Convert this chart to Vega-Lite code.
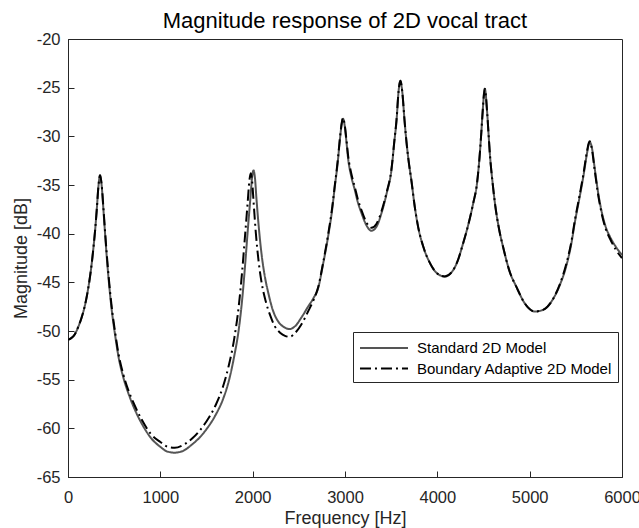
{
  "$schema": "https://vega.github.io/schema/vega-lite/v6.json",
  "width": 554,
  "height": 438,
  "autosize": {"type": "none"},
  "padding": {"left": 68, "top": 39, "right": 17, "bottom": 51},
  "config": {
    "font": "Liberation Sans",
    "view": {"stroke": "#262626", "strokeWidth": 1},
    "background": "white"
  },
  "title": {
    "text": "Magnitude response of 2D vocal tract",
    "fontSize": 22,
    "fontWeight": "normal",
    "color": "#000000",
    "anchor": "middle",
    "offset": -2
  },
  "data": {
    "values": [
      {"f": 0, "db": -50.9, "model": "Standard 2D Model"},
      {"f": 40, "db": -50.7, "model": "Standard 2D Model"},
      {"f": 76, "db": -50.3, "model": "Standard 2D Model"},
      {"f": 110, "db": -49.6, "model": "Standard 2D Model"},
      {"f": 148, "db": -48.6, "model": "Standard 2D Model"},
      {"f": 185, "db": -47.3, "model": "Standard 2D Model"},
      {"f": 221, "db": -45.5, "model": "Standard 2D Model"},
      {"f": 250, "db": -43.6, "model": "Standard 2D Model"},
      {"f": 275, "db": -41.5, "model": "Standard 2D Model"},
      {"f": 295, "db": -39.5, "model": "Standard 2D Model"},
      {"f": 311, "db": -37.6, "model": "Standard 2D Model"},
      {"f": 330, "db": -35.1, "model": "Standard 2D Model"},
      {"f": 347, "db": -34.0, "model": "Standard 2D Model"},
      {"f": 365, "db": -35.1, "model": "Standard 2D Model"},
      {"f": 384, "db": -37.6, "model": "Standard 2D Model"},
      {"f": 400, "db": -39.8, "model": "Standard 2D Model"},
      {"f": 419, "db": -42.3, "model": "Standard 2D Model"},
      {"f": 445, "db": -45.2, "model": "Standard 2D Model"},
      {"f": 473, "db": -47.8, "model": "Standard 2D Model"},
      {"f": 510, "db": -50.4, "model": "Standard 2D Model"},
      {"f": 546, "db": -52.6, "model": "Standard 2D Model"},
      {"f": 600, "db": -54.8, "model": "Standard 2D Model"},
      {"f": 654, "db": -56.4, "model": "Standard 2D Model"},
      {"f": 720, "db": -58.0, "model": "Standard 2D Model"},
      {"f": 798, "db": -59.5, "model": "Standard 2D Model"},
      {"f": 899, "db": -61.0, "model": "Standard 2D Model"},
      {"f": 1000, "db": -61.9, "model": "Standard 2D Model"},
      {"f": 1080, "db": -62.4, "model": "Standard 2D Model"},
      {"f": 1156, "db": -62.5, "model": "Standard 2D Model"},
      {"f": 1250, "db": -62.3, "model": "Standard 2D Model"},
      {"f": 1350, "db": -61.6, "model": "Standard 2D Model"},
      {"f": 1420, "db": -61.0, "model": "Standard 2D Model"},
      {"f": 1499, "db": -60.1, "model": "Standard 2D Model"},
      {"f": 1600, "db": -58.6, "model": "Standard 2D Model"},
      {"f": 1679, "db": -57.0, "model": "Standard 2D Model"},
      {"f": 1740, "db": -55.2, "model": "Standard 2D Model"},
      {"f": 1800, "db": -52.6, "model": "Standard 2D Model"},
      {"f": 1850, "db": -49.8, "model": "Standard 2D Model"},
      {"f": 1890, "db": -46.4, "model": "Standard 2D Model"},
      {"f": 1920, "db": -43.0, "model": "Standard 2D Model"},
      {"f": 1945, "db": -39.9, "model": "Standard 2D Model"},
      {"f": 1975, "db": -36.4, "model": "Standard 2D Model"},
      {"f": 1995, "db": -34.1, "model": "Standard 2D Model"},
      {"f": 2009, "db": -33.5, "model": "Standard 2D Model"},
      {"f": 2025, "db": -34.3, "model": "Standard 2D Model"},
      {"f": 2041, "db": -36.4, "model": "Standard 2D Model"},
      {"f": 2065, "db": -39.2, "model": "Standard 2D Model"},
      {"f": 2095, "db": -42.0, "model": "Standard 2D Model"},
      {"f": 2130, "db": -44.3, "model": "Standard 2D Model"},
      {"f": 2167, "db": -46.0, "model": "Standard 2D Model"},
      {"f": 2220, "db": -47.9, "model": "Standard 2D Model"},
      {"f": 2275, "db": -49.0, "model": "Standard 2D Model"},
      {"f": 2340, "db": -49.6, "model": "Standard 2D Model"},
      {"f": 2402, "db": -49.8, "model": "Standard 2D Model"},
      {"f": 2460, "db": -49.5, "model": "Standard 2D Model"},
      {"f": 2529, "db": -48.6, "model": "Standard 2D Model"},
      {"f": 2600, "db": -47.5, "model": "Standard 2D Model"},
      {"f": 2660, "db": -46.6, "model": "Standard 2D Model"},
      {"f": 2709, "db": -45.6, "model": "Standard 2D Model"},
      {"f": 2763, "db": -43.1, "model": "Standard 2D Model"},
      {"f": 2817, "db": -40.3, "model": "Standard 2D Model"},
      {"f": 2860, "db": -37.6, "model": "Standard 2D Model"},
      {"f": 2889, "db": -35.2, "model": "Standard 2D Model"},
      {"f": 2920, "db": -32.8, "model": "Standard 2D Model"},
      {"f": 2944, "db": -30.4, "model": "Standard 2D Model"},
      {"f": 2965, "db": -28.7, "model": "Standard 2D Model"},
      {"f": 2979, "db": -28.2, "model": "Standard 2D Model"},
      {"f": 2995, "db": -28.8, "model": "Standard 2D Model"},
      {"f": 3015, "db": -30.5, "model": "Standard 2D Model"},
      {"f": 3034, "db": -32.3, "model": "Standard 2D Model"},
      {"f": 3070, "db": -34.2, "model": "Standard 2D Model"},
      {"f": 3106, "db": -35.5, "model": "Standard 2D Model"},
      {"f": 3140, "db": -36.8, "model": "Standard 2D Model"},
      {"f": 3179, "db": -37.9, "model": "Standard 2D Model"},
      {"f": 3230, "db": -39.1, "model": "Standard 2D Model"},
      {"f": 3287, "db": -39.7, "model": "Standard 2D Model"},
      {"f": 3340, "db": -39.3, "model": "Standard 2D Model"},
      {"f": 3395, "db": -37.9, "model": "Standard 2D Model"},
      {"f": 3450, "db": -35.9, "model": "Standard 2D Model"},
      {"f": 3504, "db": -33.4, "model": "Standard 2D Model"},
      {"f": 3535, "db": -30.5, "model": "Standard 2D Model"},
      {"f": 3558, "db": -28.4, "model": "Standard 2D Model"},
      {"f": 3580, "db": -25.4, "model": "Standard 2D Model"},
      {"f": 3600, "db": -24.3, "model": "Standard 2D Model"},
      {"f": 3620, "db": -25.4, "model": "Standard 2D Model"},
      {"f": 3645, "db": -28.4, "model": "Standard 2D Model"},
      {"f": 3665, "db": -30.5, "model": "Standard 2D Model"},
      {"f": 3690, "db": -32.6, "model": "Standard 2D Model"},
      {"f": 3720, "db": -34.6, "model": "Standard 2D Model"},
      {"f": 3755, "db": -37.2, "model": "Standard 2D Model"},
      {"f": 3792, "db": -39.3, "model": "Standard 2D Model"},
      {"f": 3850, "db": -41.4, "model": "Standard 2D Model"},
      {"f": 3919, "db": -43.0, "model": "Standard 2D Model"},
      {"f": 4000, "db": -44.1, "model": "Standard 2D Model"},
      {"f": 4081, "db": -44.4, "model": "Standard 2D Model"},
      {"f": 4160, "db": -43.9, "model": "Standard 2D Model"},
      {"f": 4220, "db": -42.8, "model": "Standard 2D Model"},
      {"f": 4279, "db": -41.0, "model": "Standard 2D Model"},
      {"f": 4340, "db": -38.9, "model": "Standard 2D Model"},
      {"f": 4388, "db": -36.9, "model": "Standard 2D Model"},
      {"f": 4430, "db": -34.8, "model": "Standard 2D Model"},
      {"f": 4460, "db": -31.8, "model": "Standard 2D Model"},
      {"f": 4475, "db": -29.8, "model": "Standard 2D Model"},
      {"f": 4490, "db": -27.6, "model": "Standard 2D Model"},
      {"f": 4514, "db": -25.1, "model": "Standard 2D Model"},
      {"f": 4540, "db": -27.6, "model": "Standard 2D Model"},
      {"f": 4555, "db": -29.8, "model": "Standard 2D Model"},
      {"f": 4569, "db": -31.8, "model": "Standard 2D Model"},
      {"f": 4600, "db": -34.9, "model": "Standard 2D Model"},
      {"f": 4623, "db": -36.8, "model": "Standard 2D Model"},
      {"f": 4670, "db": -39.6, "model": "Standard 2D Model"},
      {"f": 4713, "db": -41.4, "model": "Standard 2D Model"},
      {"f": 4780, "db": -43.8, "model": "Standard 2D Model"},
      {"f": 4858, "db": -45.5, "model": "Standard 2D Model"},
      {"f": 4950, "db": -47.2, "model": "Standard 2D Model"},
      {"f": 5056, "db": -48.0, "model": "Standard 2D Model"},
      {"f": 5150, "db": -47.8, "model": "Standard 2D Model"},
      {"f": 5254, "db": -46.7, "model": "Standard 2D Model"},
      {"f": 5330, "db": -45.2, "model": "Standard 2D Model"},
      {"f": 5400, "db": -43.2, "model": "Standard 2D Model"},
      {"f": 5450, "db": -41.1, "model": "Standard 2D Model"},
      {"f": 5490, "db": -38.8, "model": "Standard 2D Model"},
      {"f": 5540, "db": -36.3, "model": "Standard 2D Model"},
      {"f": 5580, "db": -34.2, "model": "Standard 2D Model"},
      {"f": 5620, "db": -31.8, "model": "Standard 2D Model"},
      {"f": 5640, "db": -30.8, "model": "Standard 2D Model"},
      {"f": 5652, "db": -30.6, "model": "Standard 2D Model"},
      {"f": 5670, "db": -31.0, "model": "Standard 2D Model"},
      {"f": 5706, "db": -33.4, "model": "Standard 2D Model"},
      {"f": 5740, "db": -35.7, "model": "Standard 2D Model"},
      {"f": 5779, "db": -37.7, "model": "Standard 2D Model"},
      {"f": 5820, "db": -39.2, "model": "Standard 2D Model"},
      {"f": 5869, "db": -40.3, "model": "Standard 2D Model"},
      {"f": 5930, "db": -41.3, "model": "Standard 2D Model"},
      {"f": 6000, "db": -42.2, "model": "Standard 2D Model"},

      {"f": 0, "db": -50.9, "model": "Boundary Adaptive 2D Model"},
      {"f": 40, "db": -50.7, "model": "Boundary Adaptive 2D Model"},
      {"f": 76, "db": -50.3, "model": "Boundary Adaptive 2D Model"},
      {"f": 110, "db": -49.6, "model": "Boundary Adaptive 2D Model"},
      {"f": 148, "db": -48.6, "model": "Boundary Adaptive 2D Model"},
      {"f": 185, "db": -47.3, "model": "Boundary Adaptive 2D Model"},
      {"f": 221, "db": -45.5, "model": "Boundary Adaptive 2D Model"},
      {"f": 250, "db": -43.6, "model": "Boundary Adaptive 2D Model"},
      {"f": 275, "db": -41.5, "model": "Boundary Adaptive 2D Model"},
      {"f": 295, "db": -39.5, "model": "Boundary Adaptive 2D Model"},
      {"f": 311, "db": -37.6, "model": "Boundary Adaptive 2D Model"},
      {"f": 330, "db": -35.1, "model": "Boundary Adaptive 2D Model"},
      {"f": 347, "db": -34.0, "model": "Boundary Adaptive 2D Model"},
      {"f": 365, "db": -35.0, "model": "Boundary Adaptive 2D Model"},
      {"f": 384, "db": -37.4, "model": "Boundary Adaptive 2D Model"},
      {"f": 400, "db": -39.6, "model": "Boundary Adaptive 2D Model"},
      {"f": 419, "db": -42.0, "model": "Boundary Adaptive 2D Model"},
      {"f": 445, "db": -44.9, "model": "Boundary Adaptive 2D Model"},
      {"f": 473, "db": -47.5, "model": "Boundary Adaptive 2D Model"},
      {"f": 510, "db": -50.1, "model": "Boundary Adaptive 2D Model"},
      {"f": 546, "db": -52.3, "model": "Boundary Adaptive 2D Model"},
      {"f": 600, "db": -54.5, "model": "Boundary Adaptive 2D Model"},
      {"f": 654, "db": -56.1, "model": "Boundary Adaptive 2D Model"},
      {"f": 720, "db": -57.6, "model": "Boundary Adaptive 2D Model"},
      {"f": 798, "db": -59.1, "model": "Boundary Adaptive 2D Model"},
      {"f": 899, "db": -60.6, "model": "Boundary Adaptive 2D Model"},
      {"f": 1000, "db": -61.4, "model": "Boundary Adaptive 2D Model"},
      {"f": 1080, "db": -61.9, "model": "Boundary Adaptive 2D Model"},
      {"f": 1156, "db": -62.0, "model": "Boundary Adaptive 2D Model"},
      {"f": 1250, "db": -61.7, "model": "Boundary Adaptive 2D Model"},
      {"f": 1350, "db": -61.0, "model": "Boundary Adaptive 2D Model"},
      {"f": 1420, "db": -60.3, "model": "Boundary Adaptive 2D Model"},
      {"f": 1499, "db": -59.3, "model": "Boundary Adaptive 2D Model"},
      {"f": 1600, "db": -57.6, "model": "Boundary Adaptive 2D Model"},
      {"f": 1679, "db": -55.7, "model": "Boundary Adaptive 2D Model"},
      {"f": 1740, "db": -53.6, "model": "Boundary Adaptive 2D Model"},
      {"f": 1800, "db": -50.8, "model": "Boundary Adaptive 2D Model"},
      {"f": 1850, "db": -47.4, "model": "Boundary Adaptive 2D Model"},
      {"f": 1885, "db": -44.0, "model": "Boundary Adaptive 2D Model"},
      {"f": 1915, "db": -40.5, "model": "Boundary Adaptive 2D Model"},
      {"f": 1945, "db": -36.9, "model": "Boundary Adaptive 2D Model"},
      {"f": 1965, "db": -34.5, "model": "Boundary Adaptive 2D Model"},
      {"f": 1979, "db": -33.8, "model": "Boundary Adaptive 2D Model"},
      {"f": 1995, "db": -34.7, "model": "Boundary Adaptive 2D Model"},
      {"f": 2011, "db": -36.9, "model": "Boundary Adaptive 2D Model"},
      {"f": 2035, "db": -40.0, "model": "Boundary Adaptive 2D Model"},
      {"f": 2065, "db": -42.9, "model": "Boundary Adaptive 2D Model"},
      {"f": 2100, "db": -45.2, "model": "Boundary Adaptive 2D Model"},
      {"f": 2140, "db": -46.9, "model": "Boundary Adaptive 2D Model"},
      {"f": 2190, "db": -48.4, "model": "Boundary Adaptive 2D Model"},
      {"f": 2239, "db": -49.5, "model": "Boundary Adaptive 2D Model"},
      {"f": 2300, "db": -50.2, "model": "Boundary Adaptive 2D Model"},
      {"f": 2350, "db": -50.5, "model": "Boundary Adaptive 2D Model"},
      {"f": 2402, "db": -50.6, "model": "Boundary Adaptive 2D Model"},
      {"f": 2460, "db": -50.2, "model": "Boundary Adaptive 2D Model"},
      {"f": 2529, "db": -49.3, "model": "Boundary Adaptive 2D Model"},
      {"f": 2600, "db": -48.0, "model": "Boundary Adaptive 2D Model"},
      {"f": 2660, "db": -46.8, "model": "Boundary Adaptive 2D Model"},
      {"f": 2709, "db": -45.5, "model": "Boundary Adaptive 2D Model"},
      {"f": 2763, "db": -43.0, "model": "Boundary Adaptive 2D Model"},
      {"f": 2817, "db": -40.1, "model": "Boundary Adaptive 2D Model"},
      {"f": 2860, "db": -37.4, "model": "Boundary Adaptive 2D Model"},
      {"f": 2889, "db": -35.1, "model": "Boundary Adaptive 2D Model"},
      {"f": 2920, "db": -32.6, "model": "Boundary Adaptive 2D Model"},
      {"f": 2944, "db": -30.3, "model": "Boundary Adaptive 2D Model"},
      {"f": 2965, "db": -28.6, "model": "Boundary Adaptive 2D Model"},
      {"f": 2979, "db": -28.1, "model": "Boundary Adaptive 2D Model"},
      {"f": 2995, "db": -28.7, "model": "Boundary Adaptive 2D Model"},
      {"f": 3015, "db": -30.3, "model": "Boundary Adaptive 2D Model"},
      {"f": 3034, "db": -32.0, "model": "Boundary Adaptive 2D Model"},
      {"f": 3070, "db": -33.9, "model": "Boundary Adaptive 2D Model"},
      {"f": 3106, "db": -35.2, "model": "Boundary Adaptive 2D Model"},
      {"f": 3140, "db": -36.5, "model": "Boundary Adaptive 2D Model"},
      {"f": 3179, "db": -37.6, "model": "Boundary Adaptive 2D Model"},
      {"f": 3230, "db": -38.8, "model": "Boundary Adaptive 2D Model"},
      {"f": 3287, "db": -39.4, "model": "Boundary Adaptive 2D Model"},
      {"f": 3340, "db": -39.0, "model": "Boundary Adaptive 2D Model"},
      {"f": 3395, "db": -37.7, "model": "Boundary Adaptive 2D Model"},
      {"f": 3450, "db": -35.8, "model": "Boundary Adaptive 2D Model"},
      {"f": 3504, "db": -33.3, "model": "Boundary Adaptive 2D Model"},
      {"f": 3535, "db": -30.4, "model": "Boundary Adaptive 2D Model"},
      {"f": 3558, "db": -28.3, "model": "Boundary Adaptive 2D Model"},
      {"f": 3580, "db": -25.4, "model": "Boundary Adaptive 2D Model"},
      {"f": 3600, "db": -24.3, "model": "Boundary Adaptive 2D Model"},
      {"f": 3620, "db": -25.4, "model": "Boundary Adaptive 2D Model"},
      {"f": 3645, "db": -28.4, "model": "Boundary Adaptive 2D Model"},
      {"f": 3665, "db": -30.5, "model": "Boundary Adaptive 2D Model"},
      {"f": 3690, "db": -32.6, "model": "Boundary Adaptive 2D Model"},
      {"f": 3720, "db": -34.6, "model": "Boundary Adaptive 2D Model"},
      {"f": 3755, "db": -37.2, "model": "Boundary Adaptive 2D Model"},
      {"f": 3792, "db": -39.3, "model": "Boundary Adaptive 2D Model"},
      {"f": 3850, "db": -41.4, "model": "Boundary Adaptive 2D Model"},
      {"f": 3919, "db": -43.0, "model": "Boundary Adaptive 2D Model"},
      {"f": 4000, "db": -44.1, "model": "Boundary Adaptive 2D Model"},
      {"f": 4081, "db": -44.4, "model": "Boundary Adaptive 2D Model"},
      {"f": 4160, "db": -43.9, "model": "Boundary Adaptive 2D Model"},
      {"f": 4220, "db": -42.8, "model": "Boundary Adaptive 2D Model"},
      {"f": 4279, "db": -41.0, "model": "Boundary Adaptive 2D Model"},
      {"f": 4340, "db": -38.9, "model": "Boundary Adaptive 2D Model"},
      {"f": 4388, "db": -36.9, "model": "Boundary Adaptive 2D Model"},
      {"f": 4430, "db": -34.8, "model": "Boundary Adaptive 2D Model"},
      {"f": 4460, "db": -31.8, "model": "Boundary Adaptive 2D Model"},
      {"f": 4475, "db": -29.8, "model": "Boundary Adaptive 2D Model"},
      {"f": 4490, "db": -27.6, "model": "Boundary Adaptive 2D Model"},
      {"f": 4514, "db": -25.1, "model": "Boundary Adaptive 2D Model"},
      {"f": 4540, "db": -27.6, "model": "Boundary Adaptive 2D Model"},
      {"f": 4555, "db": -29.8, "model": "Boundary Adaptive 2D Model"},
      {"f": 4569, "db": -31.8, "model": "Boundary Adaptive 2D Model"},
      {"f": 4600, "db": -34.9, "model": "Boundary Adaptive 2D Model"},
      {"f": 4623, "db": -36.8, "model": "Boundary Adaptive 2D Model"},
      {"f": 4670, "db": -39.6, "model": "Boundary Adaptive 2D Model"},
      {"f": 4713, "db": -41.4, "model": "Boundary Adaptive 2D Model"},
      {"f": 4780, "db": -43.8, "model": "Boundary Adaptive 2D Model"},
      {"f": 4858, "db": -45.5, "model": "Boundary Adaptive 2D Model"},
      {"f": 4950, "db": -47.2, "model": "Boundary Adaptive 2D Model"},
      {"f": 5056, "db": -48.0, "model": "Boundary Adaptive 2D Model"},
      {"f": 5150, "db": -47.8, "model": "Boundary Adaptive 2D Model"},
      {"f": 5254, "db": -46.7, "model": "Boundary Adaptive 2D Model"},
      {"f": 5330, "db": -45.1, "model": "Boundary Adaptive 2D Model"},
      {"f": 5400, "db": -43.0, "model": "Boundary Adaptive 2D Model"},
      {"f": 5450, "db": -40.9, "model": "Boundary Adaptive 2D Model"},
      {"f": 5490, "db": -38.6, "model": "Boundary Adaptive 2D Model"},
      {"f": 5540, "db": -36.1, "model": "Boundary Adaptive 2D Model"},
      {"f": 5580, "db": -34.0, "model": "Boundary Adaptive 2D Model"},
      {"f": 5620, "db": -31.6, "model": "Boundary Adaptive 2D Model"},
      {"f": 5640, "db": -30.7, "model": "Boundary Adaptive 2D Model"},
      {"f": 5650, "db": -30.5, "model": "Boundary Adaptive 2D Model"},
      {"f": 5670, "db": -31.1, "model": "Boundary Adaptive 2D Model"},
      {"f": 5706, "db": -33.6, "model": "Boundary Adaptive 2D Model"},
      {"f": 5740, "db": -35.9, "model": "Boundary Adaptive 2D Model"},
      {"f": 5779, "db": -37.9, "model": "Boundary Adaptive 2D Model"},
      {"f": 5820, "db": -39.4, "model": "Boundary Adaptive 2D Model"},
      {"f": 5869, "db": -40.5, "model": "Boundary Adaptive 2D Model"},
      {"f": 5930, "db": -41.6, "model": "Boundary Adaptive 2D Model"},
      {"f": 6000, "db": -42.5, "model": "Boundary Adaptive 2D Model"}
    ]
  },
  "mark": {"type": "line", "interpolate": "monotone", "strokeWidth": 2, "clip": true},
  "encoding": {
    "x": {
      "field": "f",
      "type": "quantitative",
      "scale": {"domain": [0, 6000], "nice": false, "zero": false},
      "axis": {
        "title": "Frequency [Hz]",
        "values": [0, 1000, 2000, 3000, 4000, 5000, 6000],
        "labelExpr": "datum.value + ''",
        "grid": false,
        "tickSize": -6,
        "labelPadding": 18,
        "labelFontSize": 16.5,
        "labelColor": "#262626",
        "domainColor": "#262626",
        "tickColor": "#262626",
        "titleFontSize": 18,
        "titleFontWeight": "normal",
        "titleColor": "#262626",
        "titlePadding": 4,
        "labelFlush": false
      }
    },
    "y": {
      "field": "db",
      "type": "quantitative",
      "scale": {"domain": [-65, -20], "nice": false, "zero": false},
      "axis": {
        "title": "Magnitude [dB]",
        "values": [-65, -60, -55, -50, -45, -40, -35, -30, -25, -20],
        "labelExpr": "datum.value + ''",
        "grid": false,
        "tickSize": -6,
        "labelPadding": 14,
        "labelFontSize": 16.5,
        "labelColor": "#262626",
        "domainColor": "#262626",
        "tickColor": "#262626",
        "titleFontSize": 18,
        "titleFontWeight": "normal",
        "titleColor": "#262626",
        "titlePadding": 6,
        "labelFlush": false
      }
    },
    "color": {
      "field": "model",
      "type": "nominal",
      "scale": {
        "domain": ["Standard 2D Model", "Boundary Adaptive 2D Model"],
        "range": ["#555555", "#000000"]
      },
      "legend": {
        "title": null,
        "orient": "none",
        "legendX": 285,
        "legendY": 293,
        "fillColor": "white",
        "strokeColor": "#262626",
        "padding": 5,
        "symbolType": "M-2.5,0H2.5",
        "symbolSize": 369,
        "symbolStrokeWidth": 2,
        "symbolOffset": 15,
        "labelFontSize": 15,
        "labelColor": "#000000",
        "labelOffset": 22,
        "labelLimit": 300,
        "rowPadding": 1.5
      }
    },
    "strokeDash": {
      "field": "model",
      "type": "nominal",
      "scale": {
        "domain": ["Standard 2D Model", "Boundary Adaptive 2D Model"],
        "range": [[1, 0], [11, 4, 2, 4]]
      },
      "legend": {
        "title": null,
        "orient": "none",
        "legendX": 285,
        "legendY": 293,
        "fillColor": "white",
        "strokeColor": "#262626",
        "padding": 5,
        "symbolType": "M-2.5,0H2.5",
        "symbolSize": 369,
        "symbolStrokeWidth": 2,
        "symbolOffset": 15,
        "labelFontSize": 15,
        "labelColor": "#000000",
        "labelOffset": 22,
        "labelLimit": 300,
        "rowPadding": 1.5
      }
    }
  }
}
